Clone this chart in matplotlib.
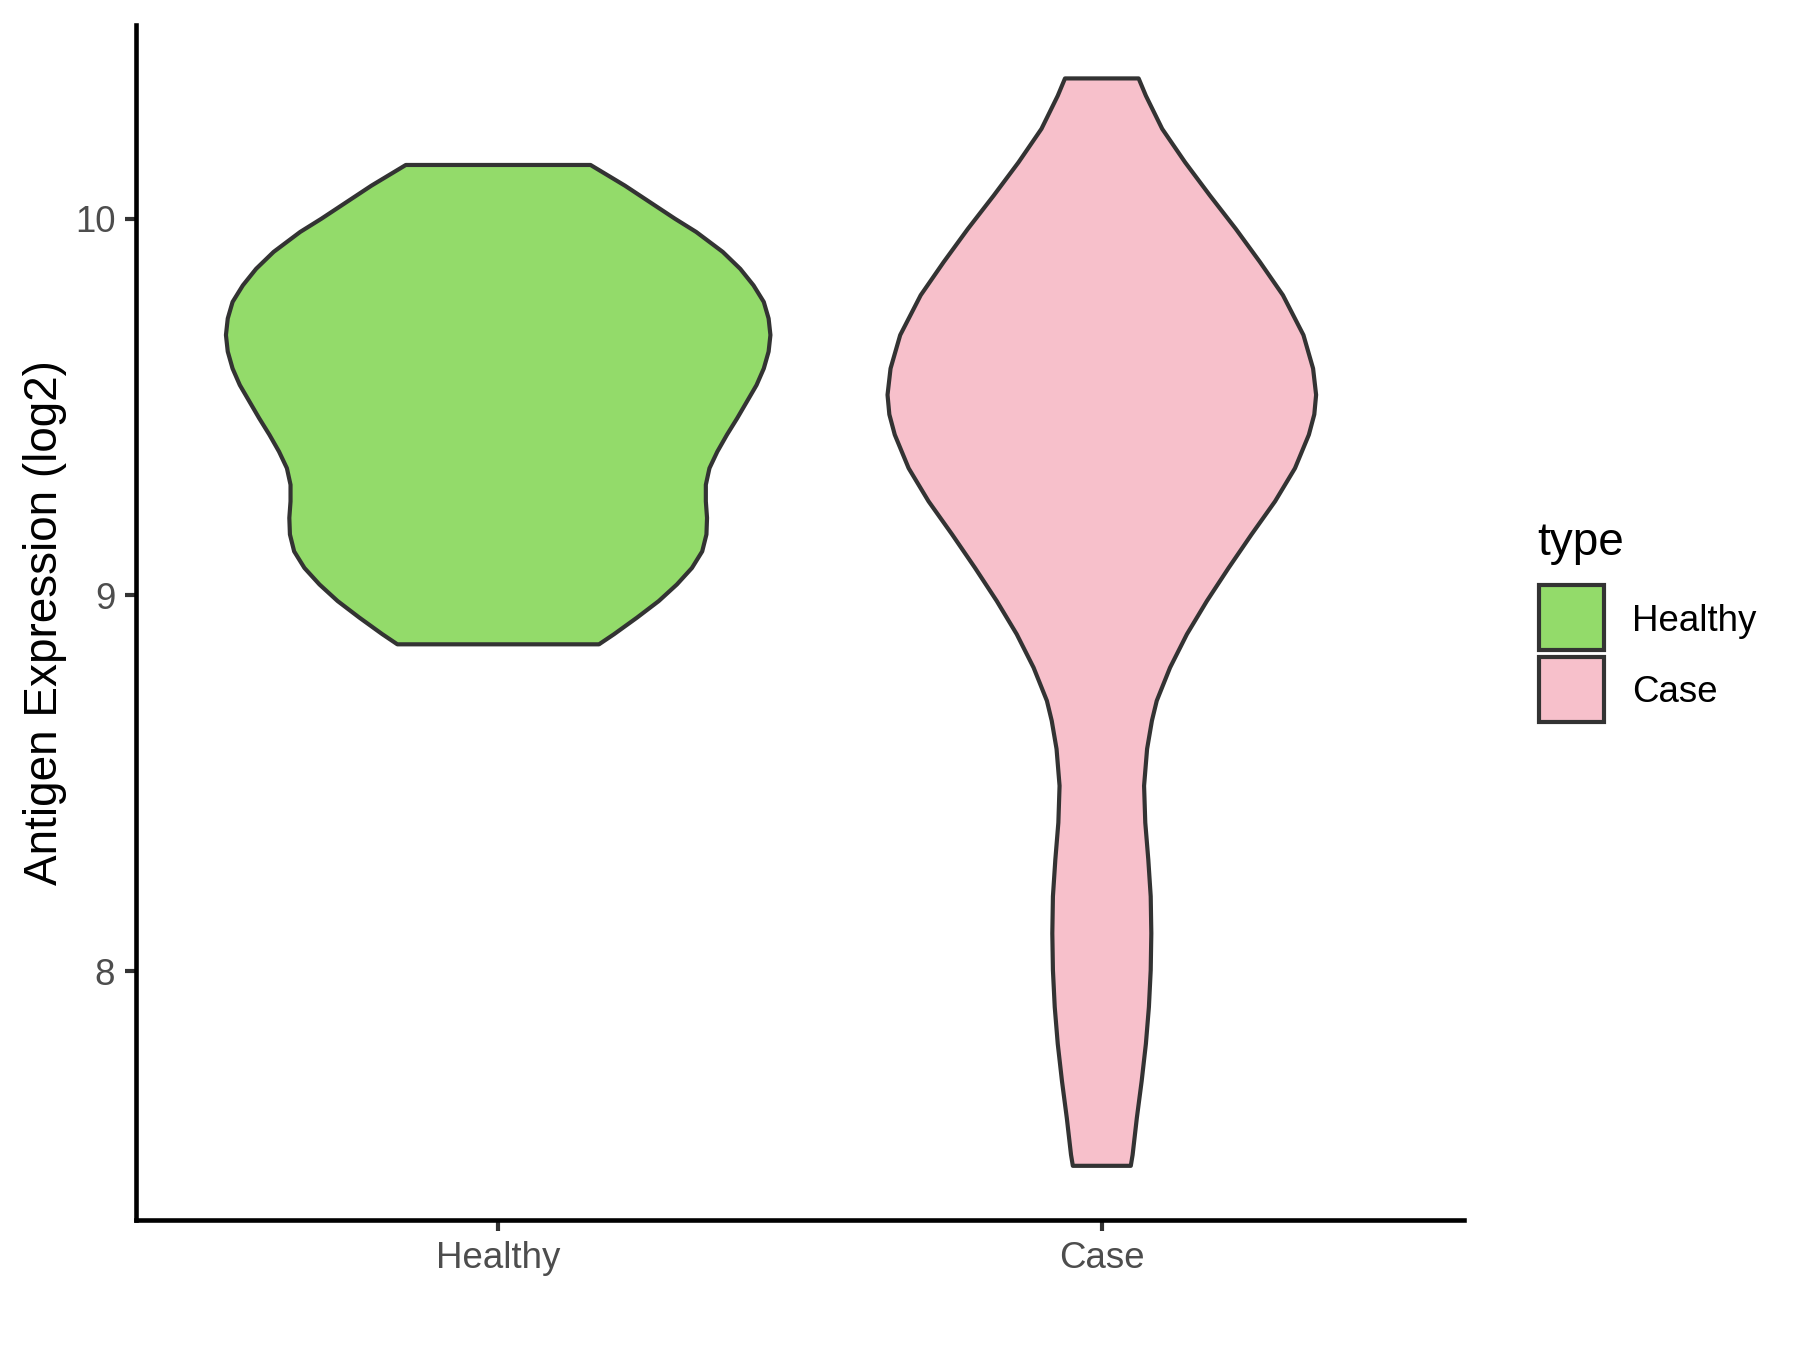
"""Violin plot of antigen expression (log2) for Healthy vs Case samples."""

import numpy as np
import matplotlib
matplotlib.use("Agg")
import matplotlib.pyplot as plt
from matplotlib.patches import Rectangle

plt.rcParams['font.family'] = ['Liberation Sans', 'DejaVu Sans']

categories = ["Healthy", "Case"]
fill_colors = ["#93DB6A", "#F7C0CB"]

# violin outlines: expression level and half width
healthy_y = [8.869, 8.896, 8.940, 8.984, 9.028, 9.072, 9.116, 9.161, 9.205,
             9.249, 9.293, 9.337, 9.381, 9.426, 9.470, 9.514, 9.558, 9.602,
             9.647, 9.691, 9.735, 9.779, 9.823, 9.867, 9.912, 9.965, 10.000,
             10.088, 10.143]
healthy_halfwidth = [0.167, 0.192, 0.230, 0.266, 0.296, 0.321, 0.338, 0.345, 0.346,
                     0.344, 0.344, 0.350, 0.363, 0.379, 0.396, 0.412, 0.428, 0.440,
                     0.448, 0.451, 0.448, 0.440, 0.423, 0.401, 0.372, 0.328, 0.293,
                     0.210, 0.153]

case_y = [7.483, 7.512, 7.610, 7.708, 7.807, 7.905, 8.003, 8.101, 8.199, 8.297,
          8.395, 8.493, 8.591, 8.666, 8.719, 8.807, 8.896, 8.984, 9.072, 9.161,
          9.249, 9.337, 9.426, 9.480, 9.532, 9.602, 9.691, 9.797, 9.885, 9.973,
          10.062, 10.150, 10.239, 10.327, 10.373]
case_halfwidth = [0.048, 0.051, 0.058, 0.066, 0.073, 0.078, 0.081, 0.082, 0.081, 0.077,
                  0.072, 0.070, 0.075, 0.083, 0.091, 0.113, 0.141, 0.174, 0.210, 0.248,
                  0.287, 0.320, 0.343, 0.352, 0.355, 0.350, 0.334, 0.300, 0.262, 0.222,
                  0.179, 0.138, 0.100, 0.073, 0.061]

profiles = [(healthy_y, healthy_halfwidth), (case_y, case_halfwidth)]

fig = plt.figure(figsize=(6, 4.5), dpi=300)
ax = fig.add_axes([136 / 1800, 1 - 1220 / 1350, 1328 / 1800, 1195 / 1350])

for i, ((ys, hw), color) in enumerate(zip(profiles, fill_colors)):
    ys = np.asarray(ys)
    hw = np.asarray(hw)
    center = i + 1
    xs = np.concatenate([center - hw, (center + hw)[::-1]])
    yy = np.concatenate([ys, ys[::-1]])
    ax.fill(xs, yy, facecolor=color, edgecolor="#333333", linewidth=1.0,
            joinstyle="round")

ax.set_xlim(0.4, 2.6)
ax.set_ylim(7.339, 10.515)
ax.set_xticks([1, 2])
ax.set_xticklabels(categories)
ax.set_yticks([8, 9, 10])
ax.set_ylabel("Antigen Expression (log2)", fontsize=11, color="black", labelpad=1.8)

for side in ["top", "right"]:
    ax.spines[side].set_visible(False)
for side in ["left", "bottom"]:
    ax.spines[side].set_linewidth(1.1)
    ax.spines[side].set_color("black")
ax.tick_params(axis="both", length=2.75, width=1.0, color="#333333",
               labelsize=8.8, labelcolor="#4D4D4D", pad=2.2)

# legend drawn by hand to match the key layout
fig.text(1537 / 1800, 1 - 555 / 1350, "type", fontsize=11, color="black",
         ha="left", va="baseline")
key_tops = [585, 657]
label_baselines = [630.7, 702.3]
for top, base, label, color in zip(key_tops, label_baselines, categories, fill_colors):
    fig.add_artist(Rectangle((1539 / 1800, 1 - (top + 65) / 1350), 65 / 1800, 65 / 1350,
                             transform=fig.transFigure, facecolor=color,
                             edgecolor="#333333", linewidth=1.0))
    fig.text(1632 / 1800, 1 - base / 1350, label, fontsize=8.8, color="black",
             ha="left", va="baseline")

fig.savefig("out.png", dpi=300)
